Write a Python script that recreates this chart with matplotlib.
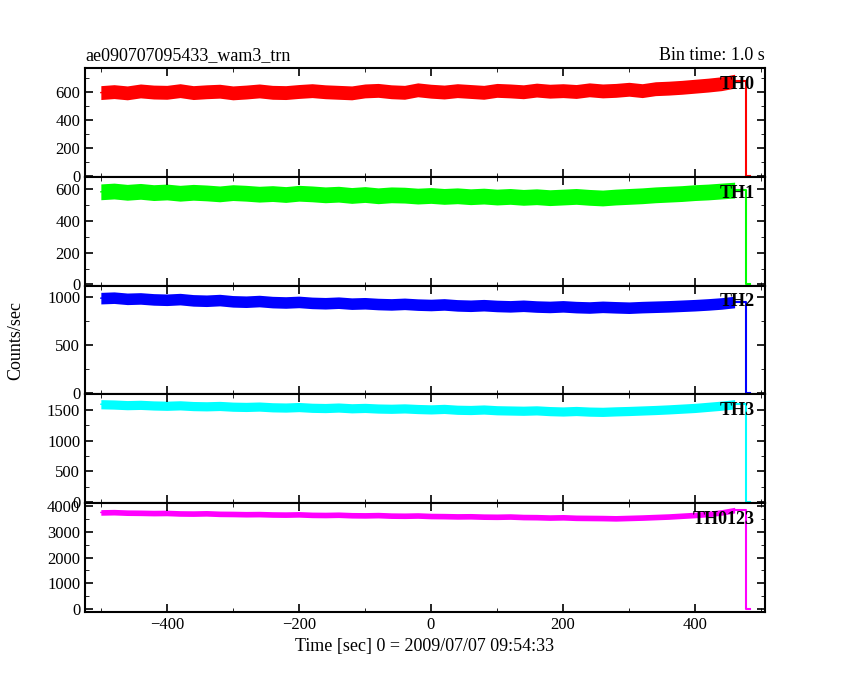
import numpy as np
import matplotlib.pyplot as plt
from matplotlib.ticker import AutoMinorLocator

plt.rcParams['font.family'] = ['Liberation Serif', 'DejaVu Serif']

# bin centres (s), 20 s resolution
t = np.arange(-500, 480, 20)

th0 = [598, 605, 596, 610, 602, 600, 612, 598, 604, 608, 596, 602, 610, 600, 598,
       606, 612, 604, 600, 596, 610, 614, 604, 600, 618, 608, 602, 612, 606, 600,
       614, 610, 604, 616, 608, 612, 606, 618, 610, 614, 622, 612, 626, 630, 636,
       644, 652, 662, 680]
th1 = [585, 590, 582, 588, 580, 584, 576, 582, 578, 572, 580, 576, 570, 574, 568,
       576, 572, 566, 570, 562, 568, 560, 566, 564, 558, 562, 556, 560, 554, 558,
       552, 556, 550, 554, 548, 552, 556, 550, 546, 552, 556, 560, 566, 570, 574,
       580, 584, 590, 596]
th2 = [985, 990, 978, 982, 972, 968, 975, 962, 958, 965, 952, 948, 955, 944, 940,
       946, 936, 932, 938, 928, 932, 924, 920, 926, 918, 914, 920, 910, 906, 912,
       904, 900, 906, 898, 894, 900, 892, 888, 895, 890, 886, 892, 896, 900, 906,
       912, 920, 930, 945]
th3 = [1590, 1585, 1575, 1580, 1570, 1565, 1572, 1560, 1556, 1562, 1550, 1546, 1552, 1540, 1536,
       1544, 1532, 1528, 1536, 1524, 1530, 1520, 1516, 1522, 1512, 1506, 1514, 1500, 1496, 1504,
       1492, 1488, 1484, 1490, 1478, 1472, 1480, 1470, 1466, 1474, 1480, 1488, 1496, 1506, 1518,
       1530, 1548, 1566, 1590]
th0123 = [3760, 3770, 3750, 3745, 3735, 3740, 3720, 3715, 3725, 3705, 3700, 3690, 3695, 3680, 3675,
          3685, 3665, 3660, 3670, 3650, 3645, 3655, 3635, 3630, 3640, 3620, 3615, 3605, 3610, 3595,
          3590, 3600, 3580, 3575, 3560, 3570, 3550, 3545, 3540, 3530, 3545, 3560, 3580, 3600, 3630,
          3660, 3700, 3760, 3850]
# noise half-width of each band
spread = [50, 50, 60, 75, 110]

series = [th0, th1, th2, th3, th0123]
names = ['TH0', 'TH1', 'TH2', 'TH3', 'TH0123']
colors = ['#ff0000', '#00ff00', '#0000ff', '#00ffff', '#ff00ff']
ylims = [(-8, 775), (-8, 680), (-12, 1115), (-20, 1750), (-120, 4120)]
yticks = [[0, 200, 400, 600], [0, 200, 400, 600], [0, 500, 1000],
          [0, 500, 1000, 1500], [0, 1000, 2000, 3000, 4000]]

fig, axes = plt.subplots(5, 1, figsize=(8.5, 6.8), dpi=100, sharex=True)
fig.subplots_adjust(left=0.1, right=0.9, top=0.9, bottom=0.1, hspace=0)

for ax, y, s, name, c, yl, yt in zip(axes, series, spread, names, colors, ylims, yticks):
    y = np.array(y, float)
    ax.fill_between(t, y - s, y + s, color=c, lw=0)
    ax.plot(t, y, color=c, lw=1)
    # trailing empty bins
    ax.plot([460, 477, 477, 483], [y[-1], y[-1], 0, 0], color=c, lw=1.5)
    ax.set_ylim(*yl)
    ax.set_yticks(yt)
    ax.set_xlim(-524, 506)
    ax.tick_params(direction='in', top=True, right=True, length=6, width=1.2, labelsize=12)
    ax.tick_params(which='minor', direction='in', top=True, right=True, length=3)
    ax.xaxis.set_minor_locator(AutoMinorLocator(2))
    ax.yaxis.set_minor_locator(AutoMinorLocator(2))
    for sp in ax.spines.values():
        sp.set_linewidth(1.5)
    ax.text(0.985, 0.85, name, transform=ax.transAxes, ha='right', va='center',
            fontsize=13, fontweight='bold')

axes[-1].set_xticks([-400, -200, 0, 200, 400])
axes[-1].set_xlabel('Time [sec] 0 = 2009/07/07 09:54:33', fontsize=13)
axes[0].set_title('ae090707095433_wam3_trn', loc='left', fontsize=13)
axes[0].set_title('Bin time: 1.0 s', loc='right', fontsize=13)
fig.text(0.008, 0.5, 'Counts/sec', rotation=90, va='center', fontsize=13)

fig.savefig('out.png')
